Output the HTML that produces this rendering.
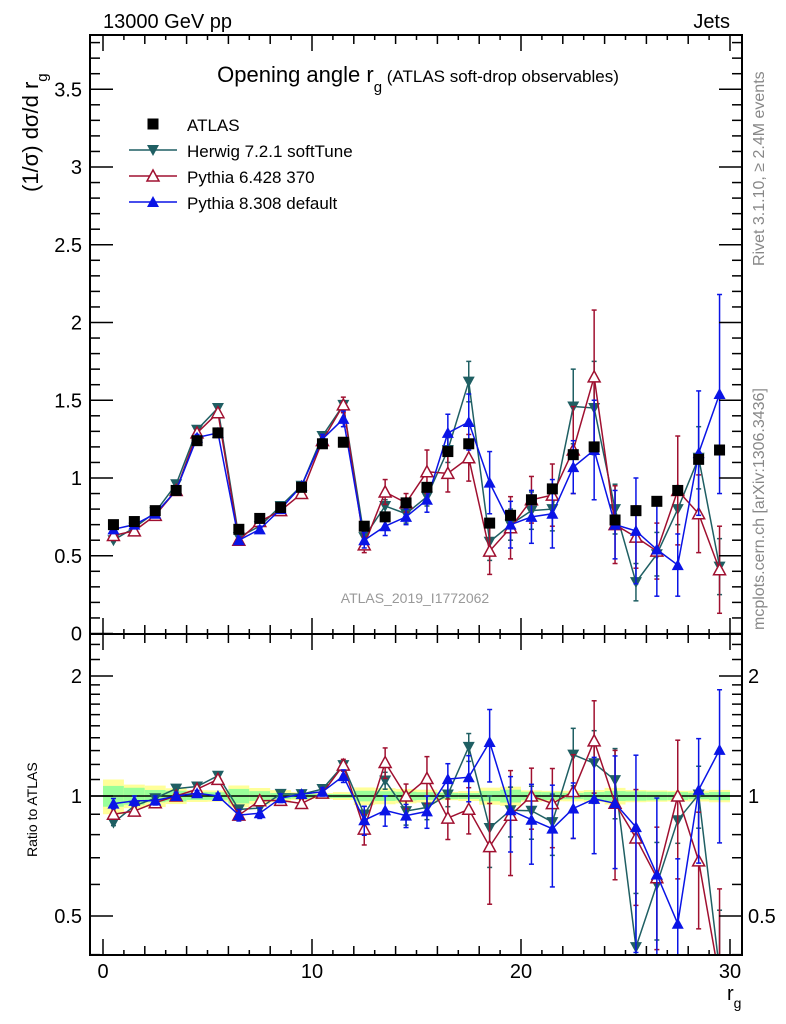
<!DOCTYPE html>
<html><head><meta charset="utf-8">
<style>
body{margin:0;background:#fff;overflow:hidden;}
svg{display:block;font-family:"Liberation Sans",sans-serif;}
</style></head>
<body>
<svg id="chart" width="786" height="1024" viewBox="0 0 786 1024" xmlns="http://www.w3.org/2000/svg">
<g id="bands"></g>
<g id="marks"></g>
<g id="axes"></g>
<text x="103" y="28" font-size="20">13000 GeV pp</text>
<text x="730" y="28" font-size="20" text-anchor="end">Jets</text>
<text x="418" y="82" font-size="22" text-anchor="middle">Opening angle r<tspan font-size="15" dy="10">g</tspan><tspan font-size="17" dy="-10"> (ATLAS soft-drop observables)</tspan></text>
<text x="415" y="603" font-size="14" fill="#999" text-anchor="middle">ATLAS_2019_I1772062</text>
<text transform="translate(764,266) rotate(-90)" font-size="16" fill="#888">Rivet 3.1.10, ≥ 2.4M events</text>
<text transform="translate(764,630) rotate(-90)" font-size="16" fill="#888">mcplots.cern.ch [arXiv:1306.3436]</text>
<text transform="translate(38,192) rotate(-90)" font-size="22">(1/σ) dσ/d r<tspan font-size="15" dy="9">g</tspan></text>
<text transform="translate(37,857) rotate(-90)" font-size="14">Ratio to ATLAS</text>
<text x="727" y="1000" font-size="20">r<tspan font-size="14" dy="8">g</tspan></text>
<g id="legend"></g>
</svg>
<script>
const binCenters=[0.5,1.5,2.5,3.5,4.5,5.5,6.5,7.5,8.5,9.5,10.5,11.5,12.5,13.5,14.5,15.5,16.5,17.5,18.5,19.5,20.5,21.5,22.5,23.5,24.5,25.5,26.5,27.5,28.5,29.5];
const atlas=[0.70,0.72,0.79,0.92,1.24,1.29,0.67,0.74,0.81,0.94,1.22,1.23,0.69,0.75,0.84,0.94,1.17,1.22,0.71,0.76,0.86,0.93,1.15,1.20,0.73,0.79,0.85,0.92,1.12,1.18];
const atlasTotErr=[0.10,0.07,0.07,0.06,0.06,0.06,0.06,0.05,0.04,0.03,0.03,0.04,0.05,0.05,0.05,0.05,0.04,0.05,0.05,0.06,0.04,0.04,0.05,0.06,0.05,0.04,0.04,0.04,0.05,0.06];
const atlasStatErr=[0.06,0.05,0.04,0.04,0.04,0.04,0.04,0.03,0.02,0.02,0.02,0.02,0.03,0.03,0.03,0.03,0.03,0.03,0.03,0.04,0.03,0.03,0.03,0.04,0.03,0.03,0.03,0.03,0.03,0.04];
const herwig=[0.60,0.68,0.78,0.96,1.31,1.45,0.62,0.69,0.82,0.95,1.27,1.47,0.62,0.82,0.77,0.88,1.18,1.62,0.59,0.70,0.79,0.80,1.46,1.45,0.80,0.33,0.51,0.80,1.13,0.43];
const herwigErr=[0.01,0.01,0.01,0.01,0.01,0.01,0.01,0.01,0.01,0.01,0.02,0.02,0.03,0.04,0.06,0.06,0.08,0.13,0.12,0.10,0.12,0.14,0.24,0.30,0.16,0.12,0.14,0.10,0.20,0.18];
const pythia6=[0.63,0.66,0.76,0.92,1.29,1.42,0.60,0.72,0.79,0.90,1.24,1.47,0.57,0.91,0.84,1.04,1.03,1.13,0.53,0.68,0.86,0.89,1.18,1.65,0.70,0.62,0.53,0.92,0.77,0.41];
const pythia6Err=[0.01,0.01,0.01,0.01,0.02,0.02,0.01,0.01,0.01,0.02,0.03,0.05,0.05,0.08,0.06,0.14,0.12,0.15,0.15,0.20,0.15,0.20,0.28,0.43,0.25,0.20,0.18,0.35,0.25,0.28];
const pythia8=[0.67,0.70,0.77,0.92,1.26,1.29,0.60,0.67,0.80,0.95,1.25,1.38,0.60,0.69,0.75,0.86,1.29,1.36,0.97,0.70,0.75,0.77,1.07,1.18,0.70,0.66,0.54,0.44,1.16,1.54];
const pythia8Err=[0.02,0.02,0.02,0.02,0.02,0.02,0.02,0.02,0.02,0.02,0.03,0.05,0.05,0.06,0.05,0.08,0.12,0.18,0.20,0.15,0.17,0.22,0.17,0.32,0.22,0.34,0.30,0.20,0.40,0.64];
const mainTicks=[0,0.5,1,1.5,2,2.5,3,3.5];
const mainTickLabels=["0","0.5","1","1.5","2","2.5","3","3.5"];
const ratioTicks=[0.5,1,2];
const ratioTickLabels=["0.5","1","2"];
const xTicks=[0,10,20,30];
const xTickLabels=["0","10","20","30"];

const NS="http://www.w3.org/2000/svg";
const L=90,R=742,T=35,M=634,B=955;
const X=v=>103+v*(730-103)/30;
const Y=v=>633.5-v*155.5;
const RY=r=>796-120*Math.log2(r);
function mk(tag,at,parent){const e=document.createElementNS(NS,tag);for(const k in at)e.setAttribute(k,at[k]);parent.appendChild(e);return e;}
const axes=document.getElementById('axes'),marks=document.getElementById('marks'),bands=document.getElementById('bands');

binCenters.forEach((c,i)=>{
  const r1=1+atlasTotErr[i]/atlas[i]*0.7, r2=1-atlasTotErr[i]/atlas[i]*0.7;
  const y=mk('rect',{x:X(c-0.5),y:RY(r1),width:X(1)-X(0),height:RY(r2)-RY(r1),fill:'#ffff99'},bands);
  
  
  const s1=1+atlasStatErr[i]/atlas[i]*0.7, s2=1-atlasStatErr[i]/atlas[i]*0.7;
  const g=mk('rect',{x:X(c-0.5),y:RY(s1),width:X(1)-X(0),height:RY(s2)-RY(s1),fill:'#99ff99'},bands);
  
  
});
const one=mk('line',{x1:L,x2:R,y1:RY(1),y2:RY(1),stroke:'#000','stroke-width':1.5},bands);



function clip(id,y1,y2){const d=mk('clipPath',{id:id},marks);mk('rect',{x:L,y:y1,width:R-L,height:y2-y1},d);}
clip('cm',T,M);clip('cr',M,B);

function marker(g,type,x,y,col){
  let e;
  if(type==='sq') e=mk('rect',{x:x-5.5,y:y-5.5,width:11,height:11,fill:'#000'},g);
  else if(type==='down') e=mk('polygon',{points:`${x-6},${y-5} ${x+6},${y-5} ${x},${y+6}`,fill:col},g);
  else if(type==='up') e=mk('polygon',{points:`${x-6},${y+5} ${x+6},${y+5} ${x},${y-6}`,fill:col},g);
  else e=mk('polygon',{points:`${x-6},${y+5} ${x+6},${y+5} ${x},${y-6}`,fill:'#fff',stroke:col,'stroke-width':1.5},g);
  return e;
}
const series=[
 {name:'herwig',vals:herwig,err:herwigErr,col:'#1f5f63',type:'down'},
 {name:'pythia6',vals:pythia6,err:pythia6Err,col:'#a01030',type:'open'},
 {name:'pythia8',vals:pythia8,err:pythia8Err,col:'#0a14e6',type:'up'}];
series.forEach(s=>{
  ['cm','cr'].forEach((cp,k)=>{
    const g=mk('g',{'clip-path':`url(#${cp})`},marks);
    
    
    const yv=(i,v)=>k?RY(v/atlas[i]):Y(v);
    const pts=binCenters.map((c,i)=>`${X(c)},${yv(i,s.vals[i])}`).join(' ');
    const line=mk('polyline',{points:pts,fill:'none',stroke:s.col,'stroke-width':1.5},g);
    
    
    binCenters.forEach((c,i)=>{
      const x=X(c),y1=yv(i,s.vals[i]+s.err[i]),y2=yv(i,Math.max(s.vals[i]-s.err[i],0.01));
      mk('line',{x1:x,x2:x,y1:y1,y2:y2,stroke:s.col,'stroke-width':1.5},g);
      mk('line',{x1:x-2.5,x2:x+2.5,y1:y1,y2:y1,stroke:s.col,'stroke-width':1.5},g);
      mk('line',{x1:x-2.5,x2:x+2.5,y1:y2,y2:y2,stroke:s.col,'stroke-width':1.5},g);
      const m=marker(g,s.type,x,yv(i,s.vals[i]),s.col);
      
      
    });
  });
});
const dg=mk('g',{},marks);


binCenters.forEach((c,i)=>{
  const m=marker(dg,'sq',X(c),Y(atlas[i]));
  
  
});

[[T,M],[M,B]].forEach(f=>mk('rect',{x:L,y:f[0],width:R-L,height:f[1]-f[0],fill:'none',stroke:'#000','stroke-width':2},axes));
[[T,1],[M,-1],[M,1],[B,-1]].forEach(([y0,d])=>{
  for(let v=0;v<=31;v++){const x=X(v);if(x>R)break;const len=v%10===0?16:(v%2===0?9:5);
    mk('line',{x1:x,x2:x,y1:y0,y2:y0+d*len,stroke:'#000','stroke-width':1.5},axes);}
});
xTicks.forEach((v,i)=>{const t=mk('text',{x:X(v),y:978,'font-size':20,'text-anchor':'middle'},axes);t.textContent=xTickLabels[i];
 });
for(let k=0;k<=38;k++){const v=k/10,y=Y(v);if(y<T)break;const maj=k%5===0;
  mk('line',{x1:L,x2:L+(maj?23:10),y1:y,y2:y,stroke:'#000','stroke-width':1.5},axes);
  mk('line',{x1:R,x2:R-(maj?23:10),y1:y,y2:y,stroke:'#000','stroke-width':1.5},axes);}
mainTicks.forEach((v,i)=>{const t=mk('text',{x:82,y:Y(v)+7,'font-size':20,'text-anchor':'end'},axes);t.textContent=mainTickLabels[i];
 });
const rmin=[0.4,0.5,0.6,0.7,0.8,0.9,1,1.1,1.2,1.3,1.4,1.5,1.6,1.7,1.8,1.9,2,2.2,2.4];
rmin.forEach(v=>{const y=RY(v);if(y<M||y>B)return;const maj=ratioTicks.includes(v);
  mk('line',{x1:L,x2:L+(maj?23:10),y1:y,y2:y,stroke:'#000','stroke-width':1.5},axes);
  mk('line',{x1:R,x2:R-(maj?23:10),y1:y,y2:y,stroke:'#000','stroke-width':1.5},axes);});
ratioTicks.forEach((v,i)=>{
  const t=mk('text',{x:82,y:RY(v)+7,'font-size':20,'text-anchor':'end'},axes);t.textContent=ratioTickLabels[i];
  
  const t2=mk('text',{x:748,y:RY(v)+7,'font-size':20},axes);t2.textContent=ratioTickLabels[i];
  });

const lg=document.getElementById('legend');
const ents=[['ATLAS','sq','#000'],['Herwig 7.2.1 softTune','down','#1f5f63'],['Pythia 6.428 370','open','#a01030'],['Pythia 8.308 default','up','#0a14e6']];
ents.forEach((e,i)=>{const y=124+i*26;const g=mk('g',{},lg);
  
  
  if(i>0)mk('line',{x1:129,x2:177,y1:y,y2:y,stroke:e[2],'stroke-width':1.5},g);
  marker(g,e[1],153,y,e[2]);
  const t=mk('text',{x:187,y:y+7,'font-size':17},g);t.textContent=e[0];});
</script>
</body></html>
